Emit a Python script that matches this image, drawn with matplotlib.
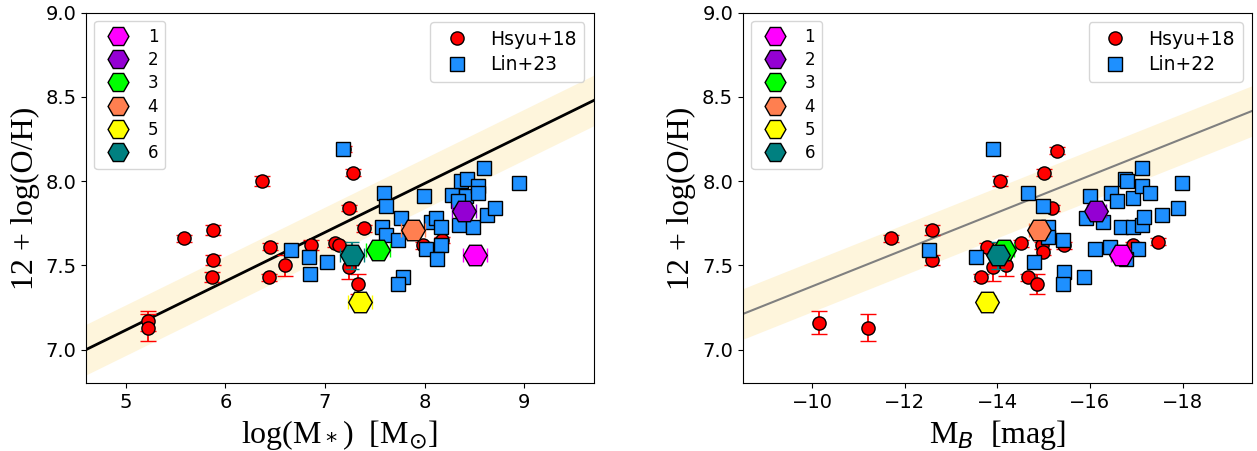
import numpy as np
import matplotlib
matplotlib.use("Agg")
import matplotlib.pyplot as plt
from matplotlib.lines import Line2D

# --- Hsyu+18 (red circles) ---
hsyu_mass = [5.22, 5.22, 5.58, 5.88, 5.88, 5.87, 6.37, 6.45, 6.44, 6.60, 6.86,
             7.10, 7.14, 7.28, 7.24, 7.39, 7.33, 7.24, 7.19, 7.98, 8.18]
hsyu_oh_l = [7.17, 7.13, 7.66, 7.71, 7.53, 7.43, 8.00, 7.61, 7.43, 7.50, 7.62,
             7.63, 7.62, 8.05, 7.84, 7.72, 7.39, 7.49, 8.19, 7.62, 7.65]
hsyu_err_l = [0.06, 0.08, 0.02, 0.03, 0.03, 0.03, 0.03, 0.02, 0.02, 0.06, 0.03,
              0.02, 0.02, 0.02, 0.02, 0.02, 0.06, 0.07, 0.02, 0.02, 0.02]

hsyu_mb = [-10.15, -11.21, -11.69, -12.59, -12.59, -13.65, -14.06, -13.78, -14.67,
           -14.18, -14.96, -14.51, -15.44, -15.00, -15.17, -14.99, -14.85, -13.91,
           -15.28, -16.94, -17.48]
hsyu_oh_r = [7.16, 7.13, 7.66, 7.71, 7.53, 7.43, 8.00, 7.61, 7.43,
             7.50, 7.62, 7.63, 7.62, 8.05, 7.84, 7.58, 7.39, 7.49,
             8.18, 7.62, 7.64]
hsyu_err_r = [0.07, 0.08, 0.02, 0.03, 0.03, 0.02, 0.03, 0.02, 0.02,
              0.06, 0.02, 0.02, 0.02, 0.02, 0.02, 0.02, 0.06, 0.08,
              0.02, 0.02, 0.02]

# --- Lin+23 (blue squares, mass panel) ---
lin_mass = [7.18, 6.66, 6.84, 6.85, 7.02, 7.59, 7.61, 7.57, 7.61, 7.73, 7.76,
            7.78, 7.73, 7.99, 8.06, 8.12, 8.17, 8.01, 8.17, 8.13, 8.28, 8.37,
            8.43, 8.42, 8.35, 8.49, 8.54, 8.54, 8.60, 8.63, 8.71, 8.95, 8.34]
lin_oh_l = [8.19, 7.59, 7.55, 7.45, 7.52, 7.93, 7.85, 7.73, 7.68, 7.65, 7.78,
            7.43, 7.39, 7.91, 7.76, 7.78, 7.73, 7.60, 7.62, 7.54, 7.92, 8.00,
            8.01, 7.91, 7.74, 7.73, 7.97, 7.93, 8.08, 7.80, 7.84, 7.99, 7.88]

# --- Lin+22 (blue squares, M_B panel) ---
lin_mb = [-13.90, -12.52, -13.53, -14.65, -14.98, -15.09, -15.09, -14.78, -15.42,
          -15.44, -15.42, -15.88, -16.11, -15.92, -16.01, -16.28, -16.46, -16.58,
          -16.44, -16.67, -16.75, -16.81, -16.94, -16.94, -17.04, -17.12, -17.13,
          -17.13, -17.17, -17.30, -17.55, -17.90, -17.98, -16.78]
lin_oh_r = [8.19, 7.59, 7.55, 7.93, 7.85, 7.73, 7.67, 7.52, 7.65,
            7.46, 7.39, 7.43, 7.60, 7.78, 7.91, 7.76, 7.93, 7.88,
            7.61, 7.73, 8.01, 8.00, 7.73, 7.90, 7.60, 7.74, 7.97,
            8.08, 7.79, 7.93, 7.80, 7.84, 7.99, 7.54]

# --- numbered objects (hexagons) ---
obj_labels = ["1", "2", "3", "4", "5", "6"]
obj_colors = ["magenta", "darkviolet", "lime", "coral", "yellow", "teal"]
obj_mass = [8.51, 8.40, 7.53, 7.88, 7.35, 7.27]
obj_mb = [-16.66, -16.14, -14.15, -14.89, -13.77, -14.02]
obj_oh = [7.56, 7.82, 7.59, 7.71, 7.28, 7.56]
obj_oh_err = [0.05, 0.05, 0.05, 0.05, 0.05, 0.08]

# relations: 12+log(O/H) = a*x + b, scatter band
rel_mass = (0.29, 5.666)
rel_mb = (-0.1095, 6.281)
band = 0.15

serif = "Liberation Serif"
blue = "#1E90FF"

fig = plt.figure(figsize=(12.57, 4.51), dpi=100)
ax1 = fig.add_axes([0.0684, 0.150, 0.404, 0.822])
ax2 = fig.add_axes([0.591, 0.150, 0.405, 0.822])


def panel(ax, xlim, rel, lcol, lw, hx, hy, hyerr, lx, ly, ox, oxerr, lin_label):
    xs = np.linspace(xlim[0], xlim[1], 50)
    ys = rel[0] * xs + rel[1]
    ax.fill_between(xs, ys - band, ys + band, color="#fef5dc", lw=0, zorder=0)
    ax.plot(xs, ys, color=lcol, lw=lw, zorder=1)
    ax.errorbar(hx, hy, yerr=hyerr, fmt="o", color="red", mfc="red", mec="black",
                ms=9.5, ecolor="red", elinewidth=1.3, capsize=6, zorder=2)
    ax.errorbar(lx, ly, xerr=0.05, fmt="s", mfc=blue, mec="black", ms=9.5,
                ecolor=blue, elinewidth=0.8, capsize=2, ls="none", zorder=3)
    for i in range(len(obj_labels)):
        ax.errorbar(ox[i], obj_oh[i], xerr=oxerr, yerr=obj_oh_err[i], fmt="H",
                    mfc=obj_colors[i], mec="black", ms=17, mew=1,
                    ecolor=obj_colors[i], capsize=5, zorder=4)
    ax.set_xlim(*xlim)
    ax.set_ylim(6.8, 9.0)
    ax.set_yticks([7.0, 7.5, 8.0, 8.5, 9.0])
    ax.tick_params(labelsize=14)
    ax.set_ylabel("12 + log(O/H)", family=serif, fontsize=23)

    h_obj = [Line2D([], [], marker="H", ls="none", mfc=c, mec="black", ms=15)
             for c in obj_colors]
    leg1 = ax.legend(h_obj, obj_labels, loc="upper left", fontsize=12,
                     labelspacing=0.32)
    ax.add_artist(leg1)
    h_pop = [Line2D([], [], marker="o", ls="none", mfc="red", mec="black", ms=9.5),
             Line2D([], [], marker="s", ls="none", mfc=blue, mec="black", ms=9.5)]
    ax.legend(h_pop, ["Hsyu+18", lin_label], loc="upper right", fontsize=13.5,
              labelspacing=0.35)


panel(ax1, (4.6, 9.7), rel_mass, "black", 2.0, hsyu_mass, hsyu_oh_l, hsyu_err_l,
      lin_mass, lin_oh_l, obj_mass, 0.12, "Lin+23")
ax1.set_xticks([5, 6, 7, 8, 9])
ax1.set_xlabel(r"log(M$_*$)  [M$_{\odot}$]", family=serif, fontsize=23)

panel(ax2, (-8.5, -19.5), rel_mb, "gray", 1.5, hsyu_mb, hsyu_oh_r, hsyu_err_r,
      lin_mb, lin_oh_r, obj_mb, 0.2, "Lin+22")
ax2.set_xticks([-10, -12, -14, -16, -18])
ax2.set_xlabel(r"M$_B$  [mag]", family=serif, fontsize=23)

fig.savefig("out.png", dpi=100)
